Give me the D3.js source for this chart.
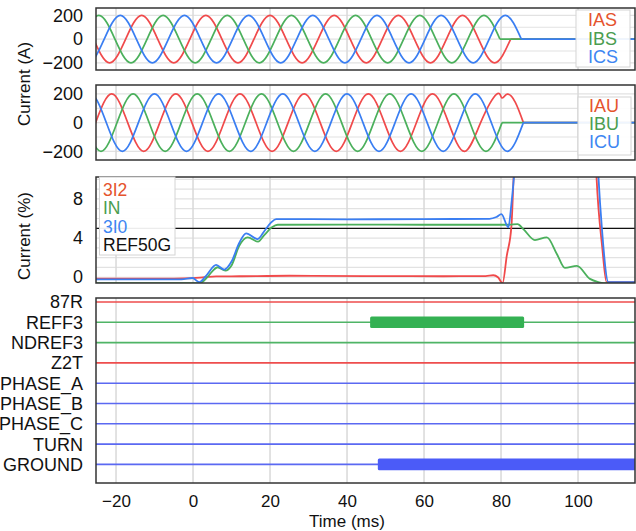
<!DOCTYPE html>
<html><head><meta charset="utf-8">
<script src="https://cdn.jsdelivr.net/npm/d3@7"></script>
<style>
html,body{margin:0;padding:0;background:#fff;}
svg{display:block;font-family:"Liberation Sans",Arial,Helvetica,sans-serif;}
</style></head><body>
<svg id="chart" width="636" height="531"></svg>
<script>
// ---------------- DATA ----------------
const timeTicks = [-20, 0, 20, 40, 60, 80, 100];
const ampTicks = [-200, 0, 200];
const pctTicks = [0, 4, 8];

// Panel 1 : [time ms, current A] at peaks / zero crossings
const IAS = [[-34.17,0],[-30.0,200],[-25.83,0],[-21.67,-200],[-17.5,0],[-13.33,200],[-9.17,0],[-5.0,-200],[-0.83,0],[3.33,200],[7.5,0],[11.67,-200],[15.83,0],[20.0,200],[24.17,0],[28.33,-200],[32.5,0],[36.67,200],[40.83,0],[45.0,-200],[49.17,0],[53.33,200],[57.5,0],[61.67,-200],[65.83,0],[70.0,200],[74.17,0],[78.33,-200],[82.5,0],[120,0]];
const IBS = [[-28.61,0],[-24.44,200],[-20.28,0],[-16.11,-200],[-11.94,0],[-7.78,200],[-3.61,0],[0.56,-200],[4.72,0],[8.89,200],[13.06,0],[17.22,-200],[21.39,0],[25.56,200],[29.72,0],[33.89,-200],[38.06,0],[42.22,200],[46.39,0],[50.56,-200],[54.72,0],[58.89,200],[63.06,0],[67.22,-200],[71.39,0],[75.56,200],[79.72,0],[120,0]];
const ICS = [[-31.39,0],[-27.22,-200],[-23.06,0],[-18.89,200],[-14.72,0],[-10.56,-200],[-6.39,0],[-2.22,200],[1.94,0],[6.11,-200],[10.28,0],[14.44,200],[18.61,0],[22.78,-200],[26.94,0],[31.11,200],[35.28,0],[39.44,-200],[43.61,0],[47.78,200],[51.94,0],[56.11,-200],[60.28,0],[64.44,200],[68.61,0],[72.78,-200],[76.94,0],[81.11,200],[85.28,0],[120,0]];

// Panel 2
const IAU = [[-33.63,0],[-29.47,-200],[-25.3,0],[-21.13,200],[-16.97,0],[-12.8,-200],[-8.63,0],[-4.47,200],[-0.3,0],[3.87,-200],[8.03,0],[12.2,200],[16.37,0],[20.53,-200],[24.7,0],[28.87,200],[33.03,0],[37.2,-200],[41.37,0],[45.53,200],[49.7,0],[53.87,-200],[58.03,0],[62.2,200],[66.37,0],[70.53,-200],[74.7,0],[78.87,198],[80.2,172],[81.64,198],[83.72,141],[85.81,0],[120,0]];
const IBU = [[-28.07,0],[-23.9,-200],[-19.74,0],[-15.57,200],[-11.4,0],[-7.24,-200],[-3.07,0],[1.09,200],[5.26,0],[9.43,-200],[13.59,0],[17.76,200],[21.93,0],[26.09,-200],[30.26,0],[34.43,200],[38.59,0],[42.76,-200],[46.93,0],[51.09,200],[55.26,0],[59.43,-200],[63.59,0],[67.76,200],[71.93,0],[76.09,-200],[80.26,0],[120,0]];
const ICU = [[-30.86,0],[-26.69,200],[-22.52,0],[-18.36,-200],[-14.19,0],[-10.02,200],[-5.86,0],[-1.69,-200],[2.48,0],[6.64,200],[10.81,0],[14.98,-200],[19.14,0],[23.31,200],[27.48,0],[31.64,-200],[35.81,0],[39.98,200],[44.14,0],[48.31,-200],[52.48,0],[56.64,200],[60.81,0],[64.98,-200],[69.14,0],[73.31,200],[77.48,0],[81.64,-200],[85.81,0],[120,0]];

// Panel 3 : [time ms, current %]
const I3I2 = [[-26,-0.15],[-5,-0.15],[0,-0.1],[3,0.0],[6,0.08],[12,0.1],[25,0.15],[45,0.12],[65,0.1],[76,0.12],[78,0.2],[79.2,0.0],[80.4,-0.6],[81.5,2.2],[82.7,5.2],[83.3,10.5],[84,16],[104.2,16],[104.8,10.3],[106.3,3.0],[107.4,-0.5],[115,-0.5]];
const IN = [[-26,-0.6],[1.8,-0.6],[3.5,-0.1],[5,0.6],[6.4,1.02],[8.4,0.68],[10,1.2],[12,3.2],[14.2,4.07],[16.9,3.63],[18.5,4.3],[20.5,5.1],[22,5.36],[40,5.38],[60,5.36],[82,5.36],[84.3,5.42],[85.8,4.92],[88.8,3.8],[91.9,4.07],[94.5,2.38],[96.6,0.95],[99.7,1.16],[103.1,-0.17],[105.3,-0.5],[106.6,-0.6],[115,-0.6]];
const I3I0 = [[-26,-0.23],[-3,-0.22],[-0.1,-0.08],[1.6,-0.5],[3.5,0.2],[6.0,1.26],[8.1,0.78],[10,1.6],[12,3.5],[13.8,4.48],[16.8,3.9],[18.5,4.7],[20.3,5.6],[21.6,5.94],[40,5.92],[60,5.94],[77,5.97],[78.8,6.15],[80.1,6.45],[81.9,5.1],[82.7,7.5],[83.4,10.5],[84.2,16],[104.6,16],[105.3,10.3],[106.2,5.0],[107.9,-0.5],[115,-0.5]];
const REF50G = 5;

// Panel 4 : digital elements
const digitalNames = ["87R","REFF3","NDREF3","Z2T","PHASE_A","PHASE_B","PHASE_C","TURN","GROUND"];
const digitalOn = [["REFF3", 46.0, 86.0], ["GROUND", 48.0, 130]];

// ---------------- DRAWING ----------------
const svg = d3.select("#chart");
const RED = "#f04a4b", GREEN = "#4bb05c", BLUE = "#3a7ef2";
const TRED = "#e5532d", TGREEN = "#4a9d4f", TBLUE = "#3d86f2";
const DRED = "#ee4d4d", DGREEN = "#4fb466", DBLUE = "#5b69f2";

const x = d3.scaleLinear().domain([-25.2, 114.8]).range([96, 635]);
const panels = [
  {top: 8, bottom: 70},
  {top: 85, bottom: 160},
  {top: 177, bottom: 283},
  {top: 298, bottom: 483}
];
const y1 = d3.scaleLinear().domain([-260, 262]).range([panels[0].bottom, panels[0].top]);
const y2 = d3.scaleLinear().domain([-260, 262]).range([panels[1].bottom, panels[1].top]);
const y3 = d3.scaleLinear().domain([-0.59, 10.24]).range([panels[2].bottom, panels[2].top]);
const y4 = d3.scalePoint().domain(digitalNames).range([302, 464.4]);

const defs = svg.append("defs");
panels.forEach((p, i) => {
  defs.append("clipPath").attr("id", "clip" + i).append("rect")
    .attr("x", x.range()[0]).attr("y", p.top)
    .attr("width", x.range()[1] - x.range()[0]).attr("height", p.bottom - p.top);
});

function panelGroup(i) { return svg.append("g").attr("clip-path", `url(#clip${i})`); }

function vgrid(g, p) {
  g.selectAll(null).data(timeTicks).enter().append("line")
    .attr("x1", d => x(d)).attr("x2", d => x(d))
    .attr("y1", p.top).attr("y2", p.bottom)
    .attr("stroke", "#d9d9d9").attr("stroke-width", 1.5);
}
function hgrid(g, vals, y) {
  g.selectAll(null).data(vals).enter().append("line")
    .attr("x1", x.range()[0]).attr("x2", x.range()[1])
    .attr("y1", d => y(d)).attr("y2", d => y(d))
    .attr("stroke", "#e2e2e2").attr("stroke-width", 1.2);
}
function wave(g, pts, y, color) {
  const head = pts.slice(0, pts.length - 1);
  const tail = pts.slice(pts.length - 2);
  g.append("path").attr("d", d3.line().x(d => x(d[0])).y(d => y(d[1])).curve(d3.curveNatural)(head))
    .attr("fill", "none").attr("stroke", color).attr("stroke-width", 1.7);
  g.append("path").attr("d", d3.line().x(d => x(d[0])).y(d => y(d[1]))(tail))
    .attr("fill", "none").attr("stroke", color).attr("stroke-width", 1.7);
}
function trend(g, pts, y, color) {
  g.append("path").attr("d", d3.line().x(d => x(d[0])).y(d => y(d[1])).curve(d3.curveMonotoneX)(pts))
    .attr("fill", "none").attr("stroke", color).attr("stroke-width", 1.8);
}
function border(p) {
  svg.append("rect").attr("x", x.range()[0]).attr("y", p.top)
    .attr("width", x.range()[1] - x.range()[0]).attr("height", p.bottom - p.top)
    .attr("fill", "none").attr("stroke", "#333").attr("stroke-width", 1.5);
}
function yAxis(y, vals) {
  const g = svg.append("g").attr("transform", `translate(${x.range()[0]},0)`)
    .call(d3.axisLeft(y).tickValues(vals).tickSize(0).tickPadding(13));
  g.select(".domain").remove();
  g.selectAll("text").attr("font-size", 18).attr("fill", "#111").attr("font-family", "Liberation Sans, Arial, sans-serif");
}
function legend(box, items, x0, baselines, fs) {
  svg.append("rect").attr("x", box[0]).attr("y", box[1]).attr("width", box[2]).attr("height", box[3])
    .attr("fill", "#fff").attr("fill-opacity", 0.92).attr("stroke", "#d4d4d4").attr("stroke-width", 1);
  items.forEach((it, i) => {
    svg.append("text").attr("x", x0).attr("y", baselines[i]).attr("font-size", fs)
      .attr("fill", it[1]).text(it[0]);
  });
}

// Panel 1
{
  const p = panels[0], g = panelGroup(0);
  hgrid(g, [-200, -100, 0, 100, 200], y1); vgrid(g, p);
  wave(g, IAS, y1, RED); wave(g, IBS, y1, GREEN); wave(g, ICS, y1, BLUE);
  border(p); yAxis(y1, ampTicks);
  legend([576, 10, 54, 57], [["IAS", TRED], ["IBS", TGREEN], ["ICS", TBLUE]], 588, [25.8, 44.5, 63.2], 18);
}
// Panel 2
{
  const p = panels[1], g = panelGroup(1);
  hgrid(g, [-200, -100, 0, 100, 200], y2); vgrid(g, p);
  wave(g, IAU, y2, RED); wave(g, IBU, y2, GREEN); wave(g, ICU, y2, BLUE);
  border(p); yAxis(y2, ampTicks);
  legend([578, 97, 53, 58], [["IAU", TRED], ["IBU", TGREEN], ["ICU", TBLUE]], 589, [111.5, 129.8, 148.2], 18);
}
// Panel 3
{
  const p = panels[2], g = panelGroup(2);
  hgrid(g, d3.range(0, 11), y3); vgrid(g, p);
  g.append("line").attr("x1", x.range()[0]).attr("x2", x.range()[1])
    .attr("y1", y3(REF50G)).attr("y2", y3(REF50G)).attr("stroke", "#111").attr("stroke-width", 1.3);
  trend(g, I3I2, y3, RED); trend(g, IN, y3, GREEN); trend(g, I3I0, y3, BLUE);
  border(p); yAxis(y3, pctTicks);
  legend([99.5, 177, 75.5, 78], [["3I2", TRED], ["IN", TGREEN], ["3I0", TBLUE], ["REF50G", "#111"]], 103, [195.5, 214, 232.5, 251], 17.5);
}
// Panel 4
{
  const p = panels[3], g = panelGroup(3);
  vgrid(g, p);
  const colorOf = n => (n === "87R" || n === "Z2T") ? DRED : (n === "REFF3" || n === "NDREF3") ? DGREEN : DBLUE;
  const barColor = n => (n === "REFF3") ? "#34b153" : "#4b5bf8";
  g.selectAll(null).data(digitalNames).enter().append("line")
    .attr("x1", x.range()[0]).attr("x2", x.range()[1])
    .attr("y1", d => y4(d)).attr("y2", d => y4(d))
    .attr("stroke", d => colorOf(d)).attr("stroke-width", 1.6);
  g.selectAll(null).data(digitalOn).enter().append("rect")
    .attr("x", d => x(d[1])).attr("width", d => x(d[2]) - x(d[1]))
    .attr("y", d => y4(d[0]) - 5.8).attr("height", 11.6).attr("rx", 1.5)
    .attr("fill", d => barColor(d[0]));
  border(p);
  svg.selectAll(null).data(digitalNames).enter().append("text")
    .attr("x", 83).attr("y", d => y4(d)).attr("dy", "0.36em")
    .attr("text-anchor", "end").attr("font-size", 18).attr("fill", "#111").text(d => d);
}

// X axis
{
  const g = svg.append("g").attr("transform", `translate(0,${panels[3].bottom})`)
    .call(d3.axisBottom(x).tickValues(timeTicks).tickSize(0).tickPadding(12));
  g.select(".domain").remove();
  g.selectAll("text").attr("font-size", 17).attr("fill", "#111").attr("font-family", "Liberation Sans, Arial, sans-serif");
}
svg.append("text").attr("x", 347).attr("y", 527).attr("text-anchor", "middle")
  .attr("font-size", 17).attr("fill", "#111").text("Time (ms)");
svg.append("text").attr("transform", "translate(29.5,84) rotate(-90)").attr("text-anchor", "middle")
  .attr("font-size", 17).attr("fill", "#111").text("Current (A)");
svg.append("text").attr("transform", "translate(29.5,236) rotate(-90)").attr("text-anchor", "middle")
  .attr("font-size", 17).attr("fill", "#111").text("Current (%)");
</script>
</body></html>
